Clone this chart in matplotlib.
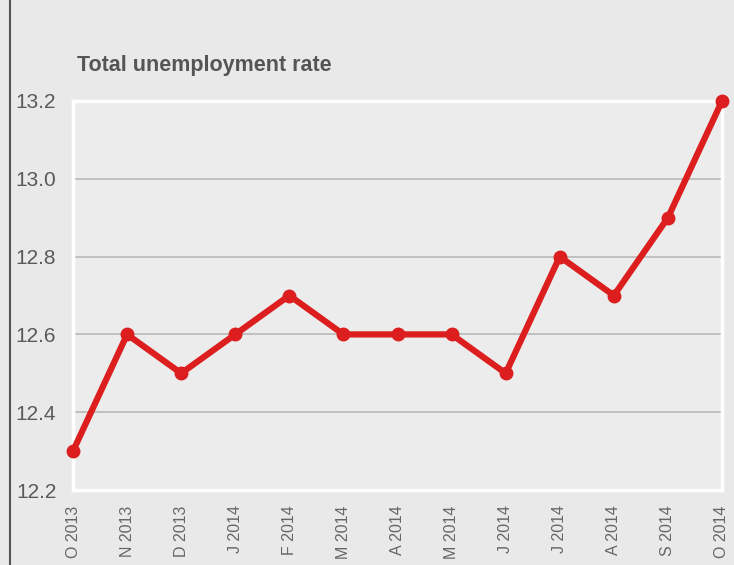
import matplotlib
matplotlib.use("Agg")
import matplotlib.pyplot as plt
from matplotlib.lines import Line2D

months = ["O 2013", "N 2013", "D 2013", "J 2014", "F 2014", "M 2014", "A 2014",
          "M 2014", "J 2014", "J 2014", "A 2014", "S 2014", "O 2014"]
rates = [12.3, 12.6, 12.5, 12.6, 12.7, 12.6, 12.6, 12.6, 12.5, 12.8, 12.7, 12.9, 13.2]
yticks = [12.2, 12.4, 12.6, 12.8, 13.0, 13.2]
title = "Total unemployment rate"

plt.rcParams['font.family'] = ['Liberation Sans', 'DejaVu Sans']

fig = plt.figure(figsize=(7.34, 5.65), dpi=100, facecolor='#e9e9e9')
ax = fig.add_axes([73/734, 1-490/565, (722-73)/734, (490-101)/565])
ax.set_facecolor('#ececec')

x = list(range(len(months)))
ax.set_xlim(0, len(months)-1)
ax.set_ylim(12.2, 13.2)

for y in yticks[1:-1]:
    ax.axhline(y, color='#b9b9b9', lw=1.2, zorder=1)

for s in ax.spines.values():
    s.set_color('white')
    s.set_linewidth(2.5)

ax.plot(x, rates, color='#dc1e1e', lw=4.5, marker='o', ms=9, zorder=3,
        clip_on=False, solid_capstyle='round')

ax.set_yticks(yticks)
ax.set_yticklabels([f"{v:.1f}" for v in yticks], fontsize=15, color='#5a5a5a')
ax.set_xticks(x)
ax.set_xticklabels(months, rotation=90, fontsize=11.5, color='#666666', va='top')
ax.tick_params(axis='both', length=0)
ax.tick_params(axis='x', pad=11)
ax.tick_params(axis='y', pad=12)

fig.text(77/734, 1-66/565, title, fontsize=15.5, fontweight='bold', color='#555555',
         va='center', ha='left')

# left dark border line of the frame
fig.add_artist(Line2D([10/734, 10/734], [0, 1], transform=fig.transFigure,
                      color='#555555', lw=1.5))

fig.savefig("out.png", dpi=100, facecolor=fig.get_facecolor())
